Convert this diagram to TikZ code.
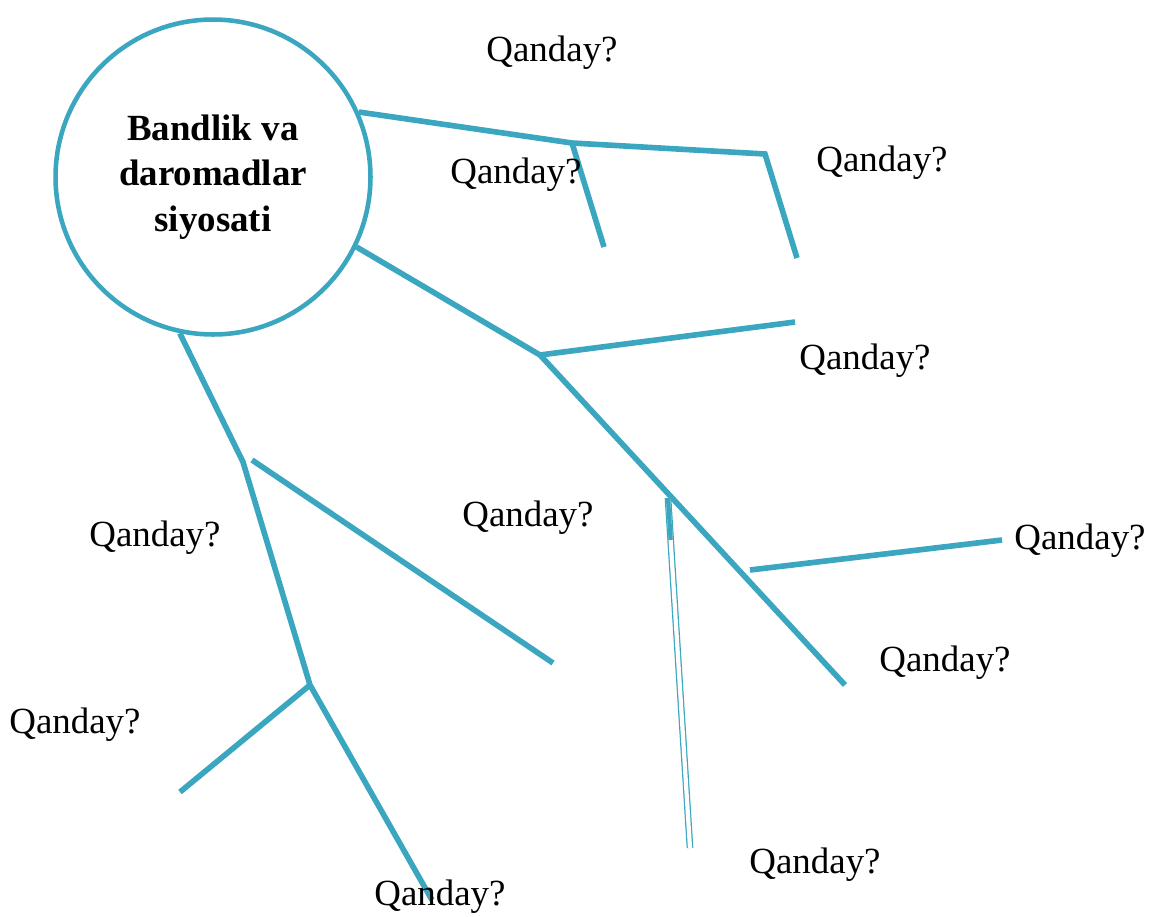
\documentclass[tikz,border=0pt]{standalone}
\usepackage{fontspec}
\setmainfont{Liberation Serif}
\usepackage{tikz}
\usetikzlibrary{calc}
\definecolor{branch}{RGB}{59,166,192}

\begin{document}
\begin{tikzpicture}[x=0.02cm,y=-0.02cm,
  limb/.style={draw=branch,line width=3.2pt},
  savol/.style={font=\fontsize{21}{25}\selectfont}]
 \useasboundingbox (0,0) rectangle (1151,916);
 \node[draw=branch,line width=2.6pt,circle,minimum size=6.3cm,align=center,
   font=\fontsize{21}{26}\selectfont\bfseries] (bv) at (213,177)
   {Bandlik va\\daromadlar\\siyosati};
 % junctions
 \coordinate (a1) at (572,143);
 \coordinate (a2) at (765,154);
 \coordinate (a3) at (797,258);
 \coordinate (a4) at (604,247);
 \coordinate (b1) at (540,355);
 \coordinate (b2) at (795,322);
 \coordinate (b3) at (668,498);
 \coordinate (b4) at (690,848);
 \coordinate (b5) at (750,570);
 \coordinate (b6) at (1002,540);
 \coordinate (b7) at (845,685);
 \coordinate (c1) at (243,462);
 \coordinate (c2) at (252,460);
 \coordinate (c3) at (553,663);
 \coordinate (c4) at (310,685);
 \coordinate (c5) at (180,792);
 \coordinate (c6) at (432,900);
 \draw[limb] (bv.24.7) -- (a1) -- (a2) -- (a3);
 \draw[limb] (a1) -- (a4);
 \draw[limb] (bv.-26.7) -- (b1) -- (b7);
 \draw[limb] (b1) -- (b2);
 \draw[limb] (b5) -- (b6);
 \draw[branch,line width=0.7pt,double distance=2.4pt] (b3) -- (b4);
 \draw[limb,line width=2.4pt] (b3) -- ($(b3)!0.12!(b4)$);
 \draw[limb] (bv.-102.7) -- (c1) -- (c4) -- (c6);
 \draw[limb] (c2) -- (c3);
 \draw[limb] (c4) -- (c5);
 % labels
 \node[savol] (q1) at (552,53) {Qanday?};
 \node[savol] (q2) at (516,175) {Qanday?};
 \node[savol] (q3) at (882,163) {Qanday?};
 \node[savol] (q4) at (865,361) {Qanday?};
 \node[savol] (q5) at (528,518) {Qanday?};
 \node[savol] (q6) at (155,538) {Qanday?};
 \node[savol] (q7) at (1080,541) {Qanday?};
 \node[savol] (q8) at (945,663) {Qanday?};
 \node[savol] (q9) at (75,725) {Qanday?};
 \node[savol] (q10) at (815,865) {Qanday?};
 \node[savol] (q11) at (440,897) {Qanday?};
\end{tikzpicture}
\end{document}
